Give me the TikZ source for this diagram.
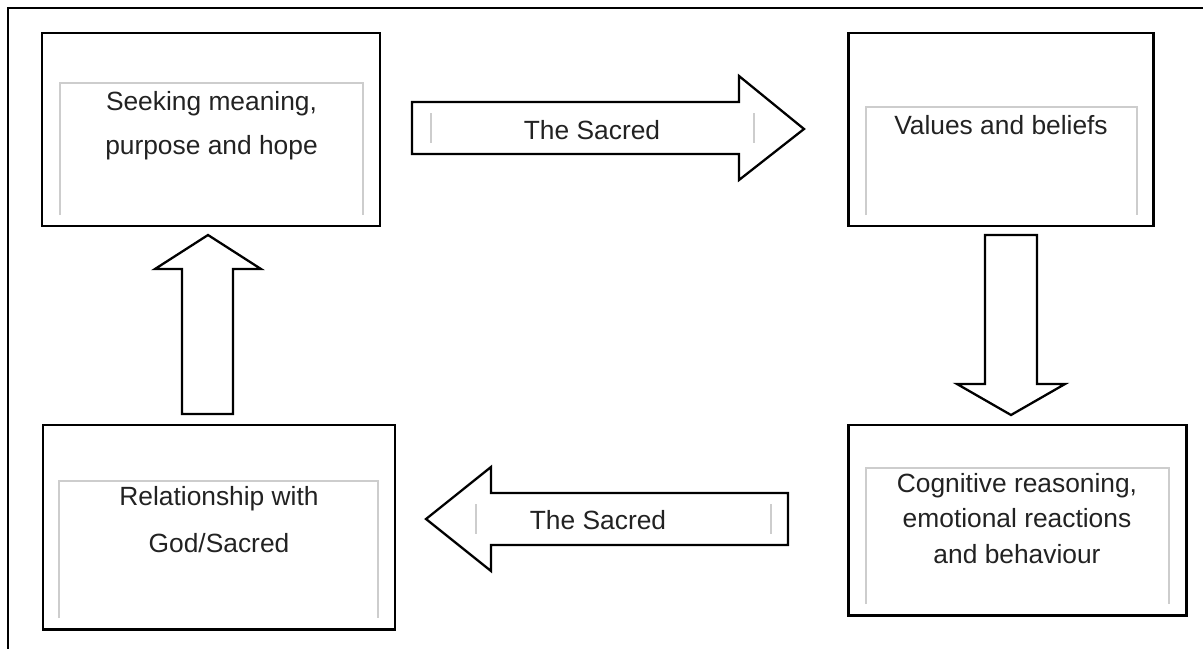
\documentclass[tikz,border=0pt]{standalone}
\usepackage{fontspec}
\setmainfont{Liberation Sans}
\usepackage{xcolor}
\usepackage{tikz}
\usetikzlibrary{positioning}
\definecolor{framegray}{RGB}{205,205,205}
\definecolor{txtgray}{RGB}{34,34,34}

\tikzset{
  boxline/.style={draw, line width=1.7pt},
  textframe/.style={draw=framegray, line width=0.6pt},
  blockarrow/.style={draw, line width=1.3pt, fill=white},
  boxtext/.style={text=txtgray, align=center, inner sep=0pt, anchor=base},
}

\begin{document}
\begin{tikzpicture}[x=0.02cm, y=-0.02cm, line join=miter]
\useasboundingbox (0,0) rectangle (1203,649);

% outer frame
\draw[line width=1.2pt] (1203,8) -- (8,8) -- (8,649);

% corners of the four boxes
\coordinate (A1) at (42,33);  \coordinate (A2) at (380,226);
\coordinate (B1) at (848,33); \coordinate (B2) at (1153,226);
\coordinate (C1) at (43,425); \coordinate (C2) at (395,629);
\coordinate (D1) at (848,425); \coordinate (D2) at (1186,615);

\draw[boxline] (A1) rectangle (A2);
\draw[boxline] (B1) rectangle (B2);
\draw[boxline] (C1) rectangle (C2);
\draw[boxline] (D1) rectangle (D2);

% text frames, open at the bottom
\draw[textframe] (60,215) |- (363,83) -- (363,215);
\draw[textframe] (866,215) |- (1137,107) -- (1137,215);
\draw[textframe] (59,618) |- (378,481) -- (378,618);
\draw[textframe] (866,604) |- (1169,468) -- (1169,604);

% block arrows
\draw[blockarrow] (412,102) -- (739,102) -- (739,76) -- (804,129)
  -- (739,180) -- (739,154) -- (412,154) -- cycle;
\draw[blockarrow] (788,493) -- (491,493) -- (491,467) -- (426,519)
  -- (491,571) -- (491,545) -- (788,545) -- cycle;
\draw[blockarrow] (985,235) -- (1037,235) -- (1037,384) -- (1065,384)
  -- (1011,415) -- (957,384) -- (985,384) -- cycle;
\draw[blockarrow] (182,414) -- (182,269) -- (155,269) -- (208,235)
  -- (261,269) -- (233,269) -- (233,414) -- cycle;

% text frames inside the arrows
\draw[textframe] (431,113) -- (431,143);
\draw[textframe] (754,113) -- (754,143);
\draw[textframe] (476,504) -- (476,534);
\draw[textframe] (771,504) -- (771,534);

% labels (base = last line)
\node[boxtext, font=\fontsize{15}{25}\selectfont] (seek) at (211.5,154)
  {Seeking meaning,\\purpose and hope};
\node[boxtext, font=\fontsize{15}{25}\selectfont] (values) at (1001,134)
  {Values and beliefs};
\node[boxtext, font=\fontsize{15}{26.2}\selectfont] (relation) at (219,552)
  {Relationship with\\God/Sacred};
\node[boxtext, font=\fontsize{15}{20.2}\selectfont] (cognitive) at (1017,563)
  {Cognitive reasoning,\\emotional reactions\\and behaviour};
\node[boxtext, font=\fontsize{15}{18}\selectfont] (sacredtop) at (592,139)
  {The Sacred};
\node[boxtext, font=\fontsize{15}{18}\selectfont] (sacredbot) at (598,529)
  {The Sacred};
\end{tikzpicture}
\end{document}
